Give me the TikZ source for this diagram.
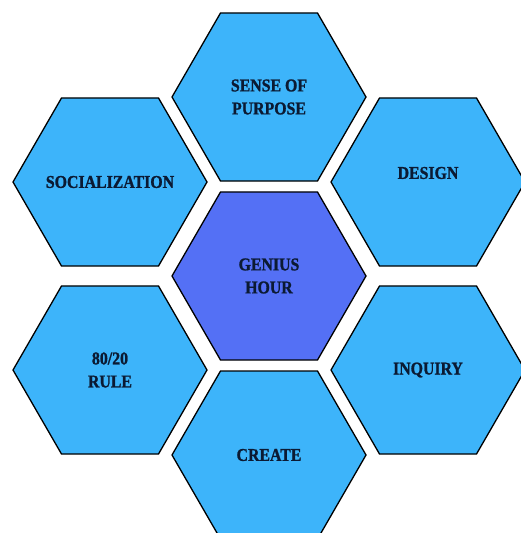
\documentclass[tikz,border=0pt]{standalone}
\usepackage{fontspec}
\setmainfont{Liberation Serif}
\newfontfamily\hexfont{Liberation Serif}[UprightFont=* Bold, FakeStretch=0.88, FakeBold=1.2]
\usetikzlibrary{shapes.geometric}
\definecolor{hexblue}{HTML}{3DB4FA}
\definecolor{hexcore}{HTML}{5470F5}
\definecolor{hexink}{HTML}{0B1A33}

\tikzset{
  hexcell/.style={
    draw=black,
    line width=1.3pt,
    fill=hexblue,
    shape=regular polygon,
    regular polygon sides=6,
    minimum size=194pt,
    inner sep=0pt,
  },
  hexlabel/.style={
    text=hexink,
    align=center,
    inner sep=0pt,
    font=\hexfont\fontsize{18}{23}\selectfont,
  },
}

\begin{document}
\begin{tikzpicture}[x=1pt, y=-1pt]
      \useasboundingbox (0, 0) rectangle (520, 533);
      % the seven cells
      \node[hexcell] (purpose) at (269, 97) {};
      \node[hexcell] (social) at (110, 182) {};
      \node[hexcell] (design) at (428, 182) {};
      \node[hexcell, fill=hexcore] (genius) at (269, 276) {};
      \node[hexcell] (rule) at (110, 370) {};
      \node[hexcell] (inquiry) at (428, 370) {};
      \node[hexcell] (create) at (269, 455) {};

      % their texts
      \node[hexlabel] (purposetext) at (purpose) {SENSE OF\\PURPOSE};
      \node[hexlabel] (socialtext) at (social) {SOCIALIZATION};
      \node[hexlabel] (designtext) at ([yshift=9pt]design.center) {DESIGN};
      \node[hexlabel] (geniustext) at (genius) {GENIUS\\HOUR};
      \node[hexlabel] (ruletext) at (rule) {80/20\\RULE};
      \node[hexlabel] (inquirytext) at (inquiry) {INQUIRY};
      \node[hexlabel] (createtext) at (create) {CREATE};
    \end{tikzpicture}
\end{document}
